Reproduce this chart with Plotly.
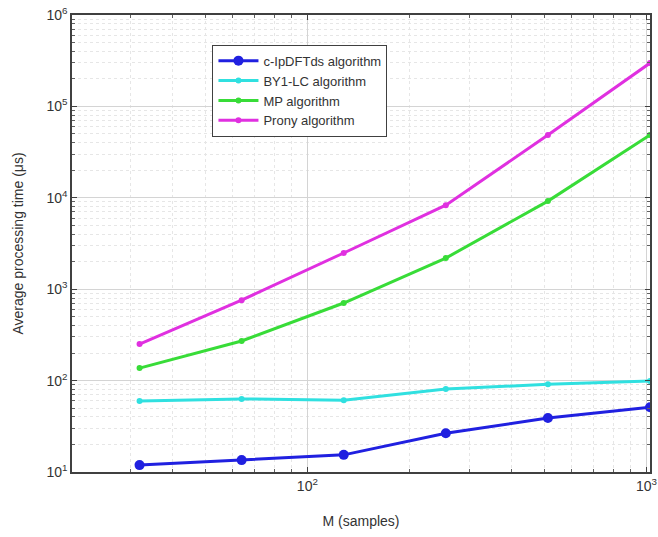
import plotly.graph_objects as go

M = [32, 64, 128, 256, 512, 1024]
ipdft = [11.9, 13.5, 15.4, 26.5, 39, 51]
by1lc = [60, 63, 61, 81, 91, 99]
mp = [137, 271, 706, 2190, 9200, 48600]
prony = [251, 759, 2490, 8300, 48600, 298000]

names = ["c-IpDFTds algorithm", "BY1-LC algorithm", "MP algorithm", "Prony algorithm"]
series = [ipdft, by1lc, mp, prony]
colors = ["#2020e0", "#30e0e0", "#38dc38", "#e030e0"]
msizes = [10, 6, 6, 6]

fig = go.Figure()
for n, s, c, ms in zip(names, series, colors, msizes):
    fig.add_trace(go.Scatter(x=M, y=s, name=n, mode="lines+markers",
                             line=dict(color=c, width=3),
                             marker=dict(color=c, size=ms, symbol="circle")))

ytick = [10, 100, 1000, 10000, 100000, 1000000]
yticktext = ["10<sup>%d</sup>" % i for i in range(1, 7)]
xtick = [100, 1000]
xticktext = ["10<sup>2</sup>", "10<sup>3</sup>"]

yminor = [m * 10 ** e for e in range(1, 6) for m in range(2, 10)]
xminor = [m * 10 ** e for e in range(1, 3) for m in range(2, 10)]


def axis_common(minor_vals):
    return dict(showline=True, linecolor="#404040", linewidth=1.5, mirror="ticks",
                ticks="inside", ticklen=5, tickcolor="#404040", automargin=False,
                showgrid=True, gridcolor="#d4d4d4", gridwidth=1, zeroline=False,
                tickfont=dict(family="Arial, Liberation Sans", size=14, color="#333"),
                minor=dict(tickvals=minor_vals, showgrid=True, gridcolor="#e6e6e6",
                           griddash="dot", ticks="inside", ticklen=3, tickcolor="#606060"))


fig.update_layout(
    width=658, height=537,
    margin=dict(l=72, r=8, t=15, b=65),
    plot_bgcolor="white", paper_bgcolor="white",
    font=dict(family="Arial, Liberation Sans", size=13, color="#333"),
    showlegend=True,
    legend=dict(x=0.243, y=0.935, xanchor="left", yanchor="top",
                bgcolor="white", bordercolor="#404040", borderwidth=1,
                font=dict(size=13, color="#333"), tracegroupgap=2, itemwidth=40),
    xaxis=dict(type="log", range=[1.306, 3.0103], tickvals=xtick, ticktext=xticktext,
               title=dict(text="M (samples)", font=dict(size=14), standoff=24),
               **axis_common(xminor)),
    yaxis=dict(type="log", range=[1, 6], tickvals=ytick, ticktext=yticktext,
               title=dict(text="Average processing time (μs)", font=dict(size=14), standoff=20),
               **axis_common(yminor)),
)

fig.write_html("out.html")
